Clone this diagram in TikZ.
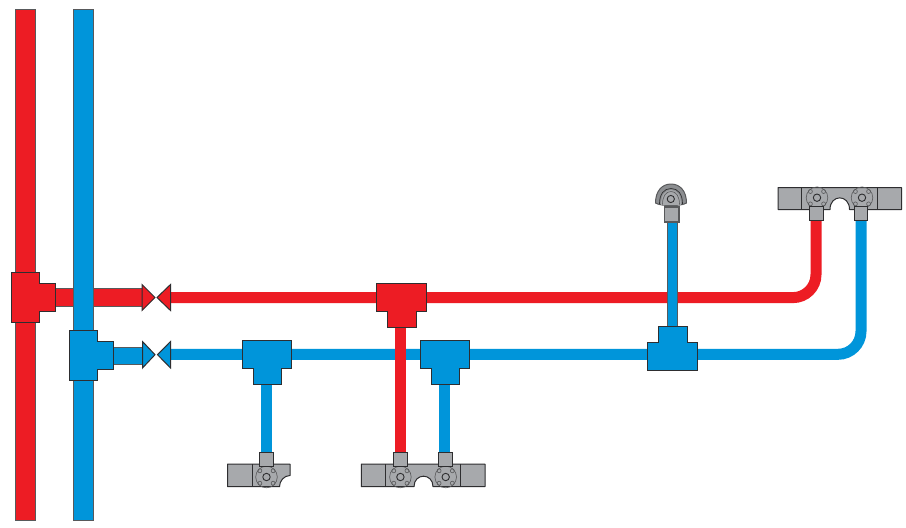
\documentclass[tikz,border=0pt]{standalone}
\definecolor{pipered}{HTML}{ED1C24}
\definecolor{pipeblue}{HTML}{0095DA}
\definecolor{plategrey}{HTML}{A7A9AC}
\definecolor{domegrey}{HTML}{8C8E91}
\definecolor{edgedark}{HTML}{2E2E30}
\definecolor{edgegrey}{HTML}{58595B}
\tikzset{
  redfit/.style={fill=pipered,draw=edgedark,line width=1pt,line join=miter},
  bluefit/.style={fill=pipeblue,draw=edgedark,line width=1pt,line join=miter},
  redmain/.style={fill=pipered,draw=edgegrey,line width=1pt},
  bluemain/.style={fill=pipeblue,draw=edgegrey,line width=1pt},
  redrun/.style={draw=pipered,line width=11pt,rounded corners=23pt},
  bluerun/.style={draw=pipeblue,line width=11pt,rounded corners=23pt},
  plate/.style={fill=plategrey,draw=edgedark,line width=1pt,line join=round},
  thinline/.style={draw=edgegrey,line width=.6pt},
  neckbox/.style={fill=plategrey,draw=edgedark,line width=1.1pt}
}
% flange: centre x, centre y
\newcommand{\flangeat}[2]{%
  \draw[thinline] (#1,#2) circle[radius=10.8pt];
  \draw[thinline,draw=edgedark,line width=.9pt] (#1,#2) circle[radius=3.7pt];
  \foreach \dx/\dy in {-6.6/-6.2,6.6/-6.2,-6.6/6.2,6.6/6.2}
    \draw[thinline] (#1+\dx,#2+\dy) circle[radius=2pt];
}
% neck: left x, top y
\newcommand{\neckat}[2]{\draw[neckbox] (#1,#2) rectangle ++(13.4,14);}
% tee pointing down: style, left, right, stem left, stem right, top y, shoulder y, bottom y
\newcommand{\teedown}[8]{\draw[#1] (#2,#6)--(#3,#6)--(#3,#7)--(#5,#7)--(#5,#8)--(#4,#8)--(#4,#7)--(#2,#7)--cycle;}
\begin{document}
\begin{tikzpicture}[x=1pt,y=-1pt]
\useasboundingbox (0,0) rectangle (906,528);
\fill[white] (0,0) rectangle (906,528);

% horizontal runs
\draw[bluerun] (170,354.3) -- (861,354.3) -- (861,220);
\draw[redrun] (170,297.6) -- (816,297.6) -- (816,220);

% drops
\draw[pipeblue,line width=11pt] (266.5,380) -- (266.5,453);
\draw[pipeblue,line width=11pt] (444.5,380) -- (444.5,453);
\draw[pipered,line width=11pt] (400.5,325) -- (400.5,453);

% riser to sprinkler
\draw[bluemain] (667,222) rectangle (677,328);

% main red and branch
\draw[redmain] (15.2,9) rectangle (35.6,520);
\draw[redmain] (50,288.5) rectangle (143,306);
% main blue
\draw[bluemain] (73,9) rectangle (93.6,520);
\draw[bluemain] (108,347) rectangle (143,364);

% wall tees
\draw[redfit] (11,272.5)--(39,272.5)--(39,283)--(55,283)--(55,311.7)--(39,311.7)--(39,322)--(11,322)--cycle;
\draw[bluefit] (69,330)--(97,330)--(97,341)--(113,341)--(113,369)--(97,369)--(97,380)--(69,380)--cycle;

% valves
\draw[redfit] (142,284.5)--(155,297.5)--(142,310.5)--cycle;
\draw[redfit] (170.5,284.5)--(157,297.5)--(170.5,310.5)--cycle;
\draw[bluefit] (142.5,341.5)--(155,354.7)--(142.5,368)--cycle;
\draw[bluefit] (170.5,341.5)--(157.5,354.7)--(170.5,368)--cycle;

% line tees
\teedown{redfit}{376.5}{426.6}{387.5}{416}{283}{311}{327}
\teedown{bluefit}{242}{291.6}{253}{281}{340}{368}{384}
\teedown{bluefit}{420}{469.6}{431}{459}{340}{368}{384}
\draw[bluefit] (647,342)--(658,342)--(658,326)--(687,326)--(687,342)--(697.6,342)--(697.6,370)--(647,370)--cycle;

% sprinkler head
\draw[plate,draw=edgegrey,fill=domegrey] (655.5,203) .. controls (655.5,191) and (662,184) .. (671,184) .. controls (680,184) and (686.5,191) .. (686.5,203) .. controls (681,206.5) and (661,206.5) .. (655.5,203) -- cycle;
\fill[plategrey] (661,205) .. controls (661,195) and (665,190) .. (671,190) .. controls (677,190) and (681,195) .. (681,205) -- cycle;
\draw[edgedark,line width=.7pt] (659.5,204) .. controls (659.5,194) and (664,188.5) .. (671,188.5) .. controls (678,188.5) and (682.5,194) .. (682.5,204);
\draw[edgegrey,line width=.6pt] (662.5,204.5) .. controls (662.5,196) and (666,191.5) .. (671,191.5) .. controls (676,191.5) and (679.5,196) .. (679.5,204.5);
\draw[edgedark,line width=.9pt,fill=plategrey] (670.8,199) circle[radius=3.6pt];
\draw[neckbox,draw=edgegrey] (664.5,207) rectangle (679,222);

% single outlet (bottom left)
\draw[plate] (227.5,464) -- (290,464) -- (290,475.5) .. controls (284,475.5) and (279.5,481) .. (279.5,486.7) -- (227.5,486.7) -- cycle;
\draw[edgedark,line width=1pt] (252,464) -- (252,486.7);
\flangeat{266.5}{477}
\neckat{259.8}{452.7}

% double outlet (bottom)
\draw[plate] (361.3,464) -- (485,464) -- (485,486.7) -- (433,486.7) .. controls (433,472.7) and (414,472.7) .. (414,486.7) -- (361.3,486.7) -- cycle;
\draw[edgedark,line width=1pt] (385.7,464) -- (385.7,486.7) (460.7,464) -- (460.7,486.7);
\flangeat{400.4}{477}
\flangeat{445.7}{477}
\neckat{393.7}{452.7}
\neckat{438.7}{452.7}

% double outlet (top right)
\draw[plate] (778,187.7) -- (901.5,187.7) -- (901.5,209.5) -- (849.5,209.5) .. controls (849.5,194) and (830,194) .. (830,209.5) -- (778,209.5) -- cycle;
\draw[edgedark,line width=1pt] (801.7,187.7) -- (801.7,209.5) (877.3,187.7) -- (877.3,209.5);
\flangeat{817}{197.7}
\flangeat{862}{197.7}
\neckat{809.7}{206.7}
\neckat{854.5}{206.7}
\end{tikzpicture}
\end{document}
